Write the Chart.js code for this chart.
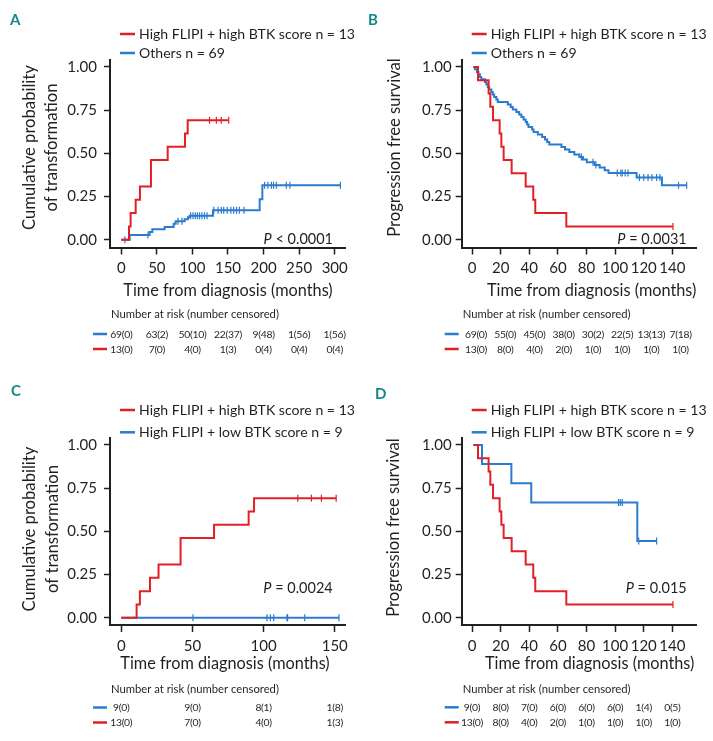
<!DOCTYPE html>
<html><head><meta charset="utf-8">
<script src="https://cdn.jsdelivr.net/npm/chart.js@4.4.1/dist/chart.umd.min.js"></script>
<style>
html,body{margin:0;padding:0;background:#fff;}
#wrap{position:relative;width:713px;height:741px;overflow:hidden;background:#fff;}
canvas{position:absolute;}
</style></head><body>
<div id="wrap">
<canvas id="cA" width="356" height="370" style="left:0px;top:0px"></canvas>
<canvas id="cB" width="357" height="370" style="left:356px;top:0px"></canvas>
<canvas id="cC" width="356" height="371" style="left:0px;top:370px"></canvas>
<canvas id="cD" width="357" height="371" style="left:356px;top:370px"></canvas>
</div>
<script>
// ---------------- DATA ----------------
const seriesHigh = 'High FLIPI + high BTK score n = 13';
const seriesOthers = 'Others n = 69';
const seriesLow = 'High FLIPI + low BTK score n = 9';

// Cumulative probability of transformation (panels A and C)
const highTransTimes  = [0, 10.8, 13.1, 20.2, 26.2, 41.7, 65.2, 89.5, 93.3, 151];
const highTransValues = [0, 0.077, 0.154, 0.231, 0.308, 0.462, 0.538, 0.615, 0.692, 0.692];
const highTransCensor = [124, 133.6, 140.6, 151];

const othersTransTimes  = [0, 11.7, 39.8, 43.6, 60.9, 73.6, 76.4, 89, 93.7, 96.1, 128.9, 194.5, 198.3, 308];
const othersTransValues = [0, 0.027, 0.044, 0.060, 0.073, 0.092, 0.107, 0.118, 0.130, 0.139, 0.170, 0.234, 0.315, 0.315];
const othersTransCensor = [5, 37.5, 79.7, 85.3, 97.5, 100.8, 104, 107, 110, 113.4, 117, 120.5, 130, 136, 140.6, 144, 149, 154, 158, 162, 166, 172.5, 201.5, 206, 211, 214, 218, 232, 237, 308];

const lowTransTimes  = [0, 153];
const lowTransValues = [0, 0];
const lowTransCensor = [50.4, 102.4, 104.8, 107.1, 116.4, 116.9, 128.9, 153];

// Progression free survival (panels B and D)
const highPfsTimes  = [1, 4.2, 11.6, 12.8, 14.7, 19.3, 20.5, 22.1, 27.7, 37.5, 42.8, 44.2, 65.9, 140.4];
const highPfsValues = [1, 0.923, 0.846, 0.769, 0.692, 0.615, 0.538, 0.462, 0.385, 0.308, 0.231, 0.154, 0.077, 0.077];
const highPfsCensor = [140.4];

const othersPfsTimes  = [1, 2, 3.5, 4.5, 5.5, 6.5, 9, 10, 11, 12, 13.5, 14.5, 15.5, 17, 18, 25, 27, 28.5, 31, 33, 34.5, 36, 37.5, 38.5, 39.5, 42, 43, 46, 49, 51, 52.5, 54, 62.5, 65, 68, 71.5, 75, 77.5, 80.2, 85.7, 89.2, 92.7, 95.4, 115, 132.7, 150];
const othersPfsValues = [1, 0.986, 0.971, 0.957, 0.942, 0.928, 0.913, 0.899, 0.884, 0.870, 0.855, 0.841, 0.826, 0.812, 0.797, 0.783, 0.768, 0.754, 0.739, 0.725, 0.710, 0.696, 0.681, 0.667, 0.652, 0.638, 0.623, 0.609, 0.594, 0.580, 0.565, 0.551, 0.536, 0.522, 0.507, 0.493, 0.478, 0.464, 0.449, 0.433, 0.418, 0.402, 0.386, 0.360, 0.315, 0.315];
const othersPfsCensor = [76.4, 84.5, 86.6, 101.5, 104, 105, 107, 109, 117, 120, 123, 125.7, 129, 131.3, 144.3, 150];

const lowPfsTimes  = [1, 7, 27.5, 41.4, 115.5, 129];
const lowPfsValues = [1, 0.889, 0.778, 0.667, 0.444, 0.444];
const lowPfsCensor = [102.4, 103.6, 105, 116.5, 129];

// Tick labels
const yTicks = [0, 0.25, 0.5, 0.75, 1];
const xTicksA = [0, 50, 100, 150, 200, 250, 300];
const xTicksB = [0, 20, 40, 60, 80, 100, 120, 140];
const xTicksC = [0, 50, 100, 150];
const xTicksD = [0, 20, 40, 60, 80, 100, 120, 140];

// Number at risk (number censored)
const riskA_others = ['69(0)', '63(2)', '50(10)', '22(37)', '9(48)', '1(56)', '1(56)'];
const riskA_high   = ['13(0)', '7(0)', '4(0)', '1(3)', '0(4)', '0(4)', '0(4)'];
const riskB_others = ['69(0)', '55(0)', '45(0)', '38(0)', '30(2)', '22(5)', '13(13)', '7(18)'];
const riskB_high   = ['13(0)', '8(0)', '4(0)', '2(0)', '1(0)', '1(0)', '1(0)', '1(0)'];
const riskC_low    = ['9(0)', '9(0)', '8(1)', '1(8)'];
const riskC_high   = ['13(0)', '7(0)', '4(0)', '1(3)'];
const riskD_low    = ['9(0)', '8(0)', '7(0)', '6(0)', '6(0)', '6(0)', '1(4)', '0(5)'];
const riskD_high   = ['13(0)', '8(0)', '4(0)', '2(0)', '1(0)', '1(0)', '1(0)', '1(0)'];

const pValues = { A: ' < 0.0001', B: ' = 0.0031', C: ' = 0.0024', D: ' = 0.015' };

// ---------------- STYLE ----------------
const TEXT = '#231f20', RED = '#e31f26', BLUE = '#2b7bce', TEAL = '#11898a';
const FAMILY = 'Lato, "Open Sans", sans-serif';
const mctx = document.createElement('canvas').getContext('2d');
function fitSize(text, target, weight) {
  mctx.font = (weight || '') + ' 100px ' + FAMILY;
  return 100 * target / mctx.measureText(text).width;
}
const SZ = {
  xtitle: fitSize('Time from diagnosis (months)', 209.5),
  ytitle: fitSize('Cumulative probability', 165),
  legend: fitSize(seriesHigh, 216),
  p: fitSize('P < 0.0001', 70),
  header: fitSize('Number at risk (number censored)', 168),
  row: 10.4,
  tick: 15
};

function stepAt(times, values, t) {
  let v = values[0];
  for (let i = 0; i < times.length; i++) if (times[i] <= t) v = values[i];
  return v;
}
function curveSets(label, times, values, censor, color) {
  return [
    { type: 'line', label: label, data: times.map((t, i) => ({ x: t, y: values[i] })),
      borderColor: color, borderWidth: 2, stepped: true, pointRadius: 0, fill: false, tension: 0 },
    { type: 'scatter', label: label + ' (censored)', data: censor.map(t => ({ x: t, y: stepAt(times, values, t) })),
      borderColor: color, backgroundColor: color, pointStyle: 'line', rotation: 90,
      pointRadius: 3.5, borderWidth: 1.2, showLine: false }
  ];
}

function decorPlugin(c) {
  return {
    id: 'decor' + c.letter,
    afterDraw(chart) {
      const ctx = chart.ctx, ca = chart.chartArea, xs = chart.scales.x;
      ctx.save();
      // panel letter
      ctx.fillStyle = TEAL; ctx.textAlign = 'left'; ctx.textBaseline = 'middle';
      ctx.font = 'bold 15px ' + FAMILY;
      ctx.fillText(c.letter, c.letterPos[0], c.letterPos[1]);
      // legend
      ctx.font = SZ.legend + 'px ' + FAMILY;
      c.legend.forEach((it, i) => {
        const y = c.legendY[i];
        ctx.strokeStyle = it.color; ctx.lineWidth = 2.5;
        ctx.beginPath(); ctx.moveTo(ca.left + 10, y); ctx.lineTo(ca.left + 25, y); ctx.stroke();
        ctx.fillStyle = TEXT; ctx.fillText(it.text, ca.left + 29, y + 0.5);
      });
      // y title
      ctx.font = SZ.ytitle + 'px ' + FAMILY; ctx.fillStyle = TEXT; ctx.textAlign = 'center';
      c.yTitle.forEach((t, i) => {
        ctx.save(); ctx.translate(c.yTitleX[i], c.yTitleY); ctx.rotate(-Math.PI / 2);
        ctx.fillText(t, 0, 0); ctx.restore();
      });
      // x title
      ctx.font = SZ.xtitle + 'px ' + FAMILY;
      ctx.fillText('Time from diagnosis (months)', c.xTitlePos[0], c.xTitlePos[1]);
      // P value
      ctx.textAlign = 'left';
      ctx.font = 'italic ' + SZ.p + 'px ' + FAMILY;
      const wP = ctx.measureText('P').width;
      ctx.font = SZ.p + 'px ' + FAMILY;
      const wR = ctx.measureText(c.pText).width;
      const x0 = c.pPos[0] - wP - wR;
      ctx.font = 'italic ' + SZ.p + 'px ' + FAMILY;
      ctx.fillText('P', x0, c.pPos[1]);
      ctx.font = SZ.p + 'px ' + FAMILY;
      ctx.fillText(c.pText, x0 + wP, c.pPos[1]);
      // risk table
      ctx.font = SZ.header + 'px ' + FAMILY;
      ctx.fillText('Number at risk (number censored)', ca.left + 1, c.riskHeaderY);
      ctx.font = SZ.row + 'px ' + FAMILY; ctx.textAlign = 'center';
      try { ctx.letterSpacing = '-0.3px'; } catch (e) {}
      c.risk.forEach((r, j) => {
        const y = c.riskRowsY[j];
        ctx.strokeStyle = r.color; ctx.lineWidth = 2.5;
        ctx.beginPath(); ctx.moveTo(ca.left - 17, y); ctx.lineTo(ca.left - 3, y); ctx.stroke();
        r.values.forEach((v, k) => {
          ctx.fillText(v, xs.getPixelForValue(c.xTicks[k]) + c.riskOffset + k * c.riskSpread, y + 0.5);
        });
      });
      ctx.restore();
    }
  };
}

function makeChart(id, c) {
  const Y_W = 50, X_H = 40;
  const datasets = [];
  c.curves.forEach(cv => datasets.push(...curveSets(cv.label, cv.times, cv.values, cv.censor, cv.color)));
  return new Chart(document.getElementById(id), {
    type: 'line',
    data: { datasets },
    options: {
      responsive: false, animation: false, devicePixelRatio: 1, events: [],
      layout: { autoPadding: false, padding: { left: c.area.left - Y_W, right: c.W - c.area.right, top: c.area.top, bottom: c.H - c.area.bottom - X_H } },
      plugins: { legend: { display: false }, tooltip: { enabled: false }, title: { display: false } },
      scales: {
        x: {
          type: 'linear', min: c.xMin, max: c.xMax,
          afterFit: s => { s.height = X_H; },
          afterBuildTicks: s => { s.ticks = c.xTicks.map(v => ({ value: v })); },
          ticks: { autoSkip: false, maxRotation: 0, padding: 5, color: TEXT, font: { family: FAMILY, size: SZ.tick }, callback: v => String(v) },
          grid: { display: true, drawOnChartArea: false, drawTicks: true, tickLength: 7, tickColor: TEXT, tickWidth: 1.5, color: TEXT },
          border: { display: true, color: TEXT, width: 2 }
        },
        y: {
          type: 'linear', min: c.yMin, max: c.yMax,
          afterFit: s => { s.width = Y_W; },
          afterBuildTicks: s => { s.ticks = yTicks.map(v => ({ value: v })); },
          ticks: { autoSkip: false, padding: c.yPad, color: TEXT, font: { family: FAMILY, size: SZ.tick }, callback: v => Number(v).toFixed(2) },
          grid: { display: true, drawOnChartArea: false, drawTicks: true, tickLength: 6, tickColor: TEXT, tickWidth: 1.5, color: TEXT },
          border: { display: true, color: TEXT, width: 2 }
        }
      }
    },
    plugins: [decorPlugin(c)]
  });
}

makeChart('cA', {
  letter: 'A', letterPos: [10, 20], W: 356, H: 370,
  area: { left: 110, right: 345, top: 60, bottom: 247.5 },
  xMin: -15.9, xMax: 314.5, yMin: -0.045, yMax: 1.04, yPad: 7, xTicks: xTicksA,
  legend: [{ text: seriesHigh, color: RED }, { text: seriesOthers, color: BLUE }], legendY: [34, 53],
  yTitle: ['Cumulative probability', 'of transformation'], yTitleX: [30, 52], yTitleY: 147.5,
  xTitlePos: [228, 291], pText: pValues.A, pPos: [333, 239],
  riskHeaderY: 314, riskRowsY: [334, 349], riskOffset: 0, riskSpread: 0,
  risk: [{ color: BLUE, values: riskA_others }, { color: RED, values: riskA_high }],
  curves: [
    { label: seriesHigh, times: highTransTimes, values: highTransValues, censor: highTransCensor, color: RED },
    { label: seriesOthers, times: othersTransTimes, values: othersTransValues, censor: othersTransCensor, color: BLUE }
  ]
});
makeChart('cB', {
  letter: 'B', letterPos: [12, 20], W: 357, H: 370,
  area: { left: 105.7, right: 340.7, top: 60, bottom: 247.5 },
  xMin: -7.2, xMax: 157, yMin: -0.045, yMax: 1.04, yPad: 4, xTicks: xTicksB,
  legend: [{ text: seriesHigh, color: RED }, { text: seriesOthers, color: BLUE }], legendY: [34, 53],
  yTitle: ['Progression free survival'], yTitleX: [38.3], yTitleY: 147.5,
  xTitlePos: [235.7, 291], pText: pValues.B, pPos: [330.7, 239],
  riskHeaderY: 314.5, riskRowsY: [334, 349], riskOffset: 4, riskSpread: 0.6,
  risk: [{ color: BLUE, values: riskB_others }, { color: RED, values: riskB_high }],
  curves: [
    { label: seriesHigh, times: highPfsTimes, values: highPfsValues, censor: highPfsCensor, color: RED },
    { label: seriesOthers, times: othersPfsTimes, values: othersPfsValues, censor: othersPfsCensor, color: BLUE }
  ]
});
makeChart('cC', {
  letter: 'C', letterPos: [11, 21], W: 356, H: 371,
  area: { left: 110, right: 345, top: 68, bottom: 255 },
  xMin: -7.9, xMax: 157.2, yMin: -0.042, yMax: 1.04, yPad: 7, xTicks: xTicksC,
  legend: [{ text: seriesHigh, color: RED }, { text: seriesLow, color: BLUE }], legendY: [40, 62.3],
  yTitle: ['Cumulative probability', 'of transformation'], yTitleX: [30, 53], yTitleY: 159,
  xTitlePos: [225, 293.7], pText: pValues.C, pPos: [332.7, 218.3],
  riskHeaderY: 319.5, riskRowsY: [337.5, 352.5], riskOffset: 0, riskSpread: 0,
  risk: [{ color: BLUE, values: riskC_low }, { color: RED, values: riskC_high }],
  curves: [
    { label: seriesHigh, times: highTransTimes, values: highTransValues, censor: highTransCensor, color: RED },
    { label: seriesLow, times: lowTransTimes, values: lowTransValues, censor: lowTransCensor, color: BLUE }
  ]
});
makeChart('cD', {
  letter: 'D', letterPos: [19, 24.5], W: 357, H: 371,
  area: { left: 105.7, right: 340.7, top: 68, bottom: 255 },
  xMin: -7.2, xMax: 157, yMin: -0.042, yMax: 1.04, yPad: 4, xTicks: xTicksD,
  legend: [{ text: seriesHigh, color: RED }, { text: seriesLow, color: BLUE }], legendY: [40, 62.3],
  yTitle: ['Progression free survival'], yTitleX: [38], yTitleY: 157.5,
  xTitlePos: [233.7, 293.7], pText: pValues.D, pPos: [330.7, 218.3],
  riskHeaderY: 319.5, riskRowsY: [337.3, 352.3], riskOffset: 0, riskSpread: 0,
  risk: [{ color: BLUE, values: riskD_low }, { color: RED, values: riskD_high }],
  curves: [
    { label: seriesHigh, times: highPfsTimes, values: highPfsValues, censor: highPfsCensor, color: RED },
    { label: seriesLow, times: lowPfsTimes, values: lowPfsValues, censor: lowPfsCensor, color: BLUE }
  ]
});
</script>
</body></html>
